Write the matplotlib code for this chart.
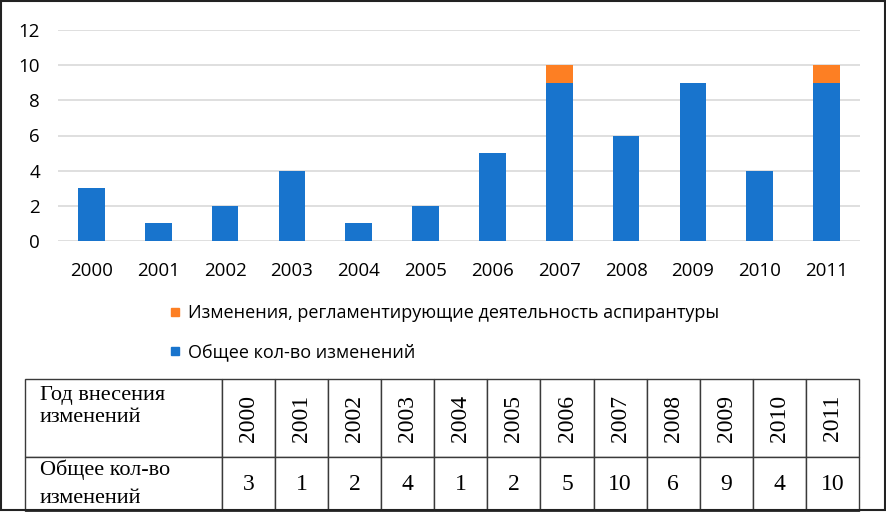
import matplotlib.pyplot as plt
from matplotlib.lines import Line2D
from matplotlib.patches import Rectangle

years = ['2000', '2001', '2002', '2003', '2004', '2005',
         '2006', '2007', '2008', '2009', '2010', '2011']
# blue part of each bar and orange part stacked on top
general = [3, 1, 2, 4, 1, 2, 5, 9, 6, 9, 4, 9]
aspirant = [0, 0, 0, 0, 0, 0, 0, 1, 0, 0, 0, 1]
# totals printed in the table under the chart
totals = [3, 1, 2, 4, 1, 2, 5, 10, 6, 9, 4, 10]

label_asp = 'Изменения, регламентирующие деятельность аспирантуры'
label_gen = 'Общее кол-во изменений'
row_head = 'Год внесения\nизменений'
row_vals = 'Общее кол-во\nизменений'

blue = '#1874cd'
orange = '#fd7f23'

W, H = 887, 512
fig = plt.figure(figsize=(W / 100, H / 100), dpi=100)

# chart area (pixel box -> figure fraction)
ax = fig.add_axes([58 / W, 1 - 241 / H, (860 - 58) / W, (241 - 30) / H])
x = list(range(len(years)))
ax.bar(x, general, width=0.4, color=blue, zorder=3)
ax.bar(x, aspirant, width=0.4, bottom=general, color=orange, zorder=3)
ax.set_xlim(-0.5, len(years) - 0.5)
ax.set_ylim(0, 12)
ax.set_yticks(range(0, 13, 2))
ax.set_xticks(x)
ax.set_xticklabels(years)
for s in ax.spines.values():
    s.set_visible(False)
ax.yaxis.grid(True, color='#d9d9d9', lw=1.2, zorder=0)
ax.tick_params(length=0, labelsize=13.5, colors='black')
ax.tick_params(axis='x', pad=15)
ax.tick_params(axis='y', pad=13)
for t in ax.get_xticklabels() + ax.get_yticklabels():
    t.set_fontfamily('Open Sans')

# legend below chart
handles = [Line2D([], [], ls='', marker='s', ms=6, color=orange),
           Line2D([], [], ls='', marker='s', ms=6, color=blue)]
fig.legend(handles, [label_asp, label_gen], loc='upper left',
           bbox_to_anchor=(170 / W, 1 - 304 / H), frameon=False,
           prop={'family': 'Open Sans', 'size': 13},
           handlelength=0.6, handletextpad=0.4, labelspacing=1.2,
           borderpad=0, borderaxespad=0)

# data table
tax = fig.add_axes([25 / W, 1 - 511 / H, (859 - 25) / W, (511 - 379) / H])
tax.axis('off')
cells = [[row_head] + years, [row_vals] + [str(v) for v in totals]]
first_w = 197
col_w = (834 - first_w) / len(years)
tbl = tax.table(cellText=cells, cellLoc='center', loc='center',
                colWidths=[first_w] + [col_w] * len(years),
                bbox=[0, 0, 1, 1])
tbl.auto_set_font_size(False)
for (r, c), cell in tbl.get_celld().items():
    cell.set_edgecolor('#3a3a3a')
    cell.set_linewidth(1.0)
    cell.set_height(78 if r == 0 else 54)
    txt = cell.get_text()
    txt.set_fontfamily('Liberation Serif')
    if c == 0:
        cell._loc = 'left'
        cell.PAD = 0.075
        txt.set_horizontalalignment('left')
        txt.set_fontsize(16)
        txt.set_linespacing(1.22 if r == 0 else 1.65)
    elif r == 0:
        txt.set_rotation(90)
        txt.set_fontsize(17)
    else:
        txt.set_fontsize(17)

# header text sits a bit above the middle of its cell
tbl[0, 0].get_text().set_text(row_head + '\n')

# outer frame of the picture
fig.add_artist(Rectangle((1 / W, 2 / H), (885 - 1) / W, (H - 3) / H,
                         transform=fig.transFigure, fill=False,
                         edgecolor='#222222', lw=1.5))

fig.savefig('out.png', dpi=100)
